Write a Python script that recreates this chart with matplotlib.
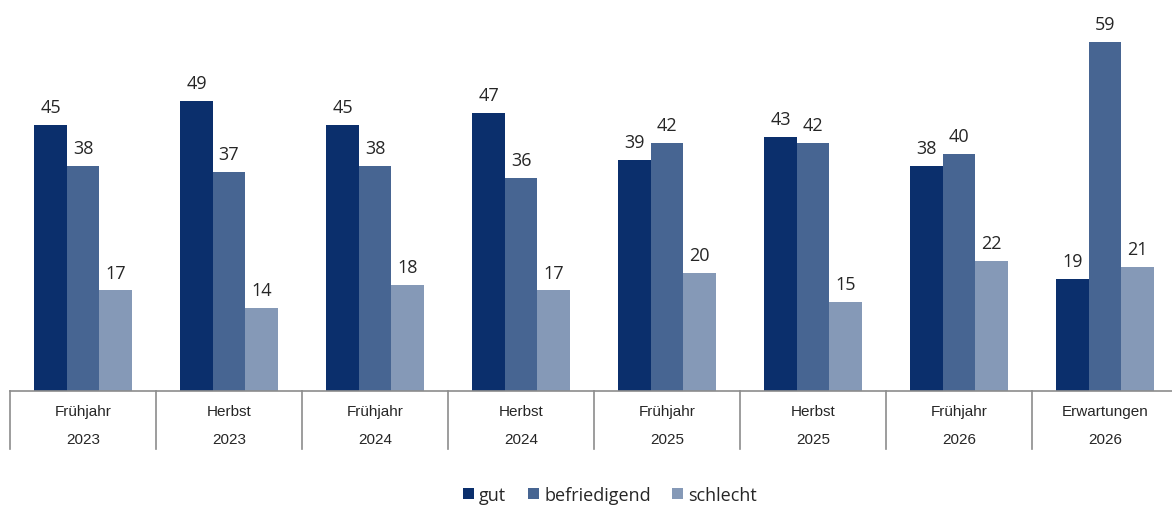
import matplotlib
matplotlib.use("Agg")
import matplotlib.pyplot as plt
import numpy as np

seasons = ["Frühjahr", "Herbst", "Frühjahr", "Herbst", "Frühjahr", "Herbst", "Frühjahr", "Erwartungen"]
years = ["2023", "2023", "2024", "2024", "2025", "2025", "2026", "2026"]
series_names = ["gut", "befriedigend", "schlecht"]
gut = [45, 49, 45, 47, 39, 43, 38, 19]
befriedigend = [38, 37, 38, 36, 42, 42, 40, 59]
schlecht = [17, 14, 18, 17, 20, 15, 22, 21]
colors = ["#0B2F6C", "#476592", "#8599B7"]

W, H = 1172, 506
fig = plt.figure(figsize=(W / 100, H / 100), dpi=100)
left, right, bottom, top = 10, 1178, 392, 37
ax = fig.add_axes([left / W, (H - bottom) / H, (right - left) / W, (bottom - top) / H])

n = len(seasons)
x = np.arange(n)
bw = 0.222
data = [gut, befriedigend, schlecht]
for i, (vals, name, c) in enumerate(zip(data, series_names, colors)):
    xs = x + (i - 1) * bw
    ax.bar(xs, vals, width=bw, color=c, label=name, zorder=2)
    for xi, v in zip(xs, vals):
        ax.text(xi, v + 1.5, str(v), ha="center", va="bottom", fontsize=13,
                family="Open Sans", color="#262626")

ax.set_xlim(-0.5, n - 0.5)
ax.set_ylim(0, 60)
ax.set_yticks([])
ax.set_xticks([])
for s in ["top", "right", "left"]:
    ax.spines[s].set_visible(False)
ax.spines["bottom"].set_color("#8c8c8c")
ax.spines["bottom"].set_linewidth(1.2)

# category axis: two-level labels with separators
trans = ax.get_xaxis_transform()
sep_len = 58 / (bottom - top)
for b in np.arange(n + 1) - 0.5:
    ax.plot([b, b], [0, -sep_len], transform=trans, color="#8c8c8c", lw=1.2, clip_on=False)
for xi, s, yr in zip(x, seasons, years):
    ax.text(xi, -20 / (bottom - top), s, transform=trans, ha="center", va="center",
            fontsize=11, family="Liberation Sans", color="#262626")
    ax.text(xi, -48 / (bottom - top), yr, transform=trans, ha="center", va="center",
            fontsize=11, family="Liberation Sans", color="#262626")

leg = fig.legend(loc="center", bbox_to_anchor=(610 / W, 1 - 496 / H), ncol=3, frameon=False,
                 prop={"family": "Open Sans", "size": 13}, handlelength=0.6, handleheight=0.6,
                 handletextpad=0.3, columnspacing=1.2)
for t in leg.get_texts():
    t.set_color("#262626")

fig.savefig("out.png", dpi=100)
